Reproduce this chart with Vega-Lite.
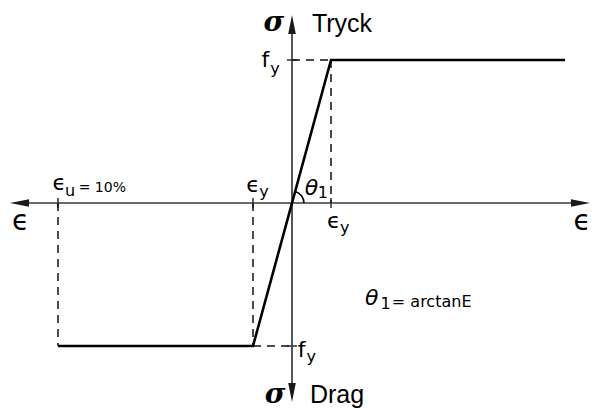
{
  "$schema": "https://vega.github.io/schema/vega-lite/v6.json",
  "width": 592,
  "height": 412,
  "autosize": {"type": "fit", "contains": "padding"},
  "padding": 0,
  "background": "white",
  "config": {"view": {"stroke": null}},
  "datasets": {
    "axes": [
      {"x": -7.1, "y": 0, "x2": 7.5, "y2": 0},
      {"x": 0, "y": 1.28, "x2": 0, "y2": -1.36}
    ],
    "arrows": [
      {"x": 7.64, "y": 0, "rot": 0},
      {"x": -7.23, "y": 0, "rot": 180},
      {"x": 0, "y": 1.315, "rot": -90},
      {"x": 0, "y": -1.392, "rot": 90}
    ],
    "curve": [
      {"x": -6, "y": -1},
      {"x": -1, "y": -1},
      {"x": 1, "y": 1},
      {"x": 7, "y": 1}
    ],
    "guides": [
      {"x": -6, "y": 0, "x2": -6, "y2": -1},
      {"x": -1, "y": 0, "x2": -1, "y2": -1},
      {"x": -1, "y": -1, "x2": 0, "y2": -1},
      {"x": 0, "y": 1, "x2": 1, "y2": 1},
      {"x": 1, "y": 1, "x2": 1, "y2": 0}
    ],
    "ticks": [
      {"x": -6, "y": 0.035, "x2": -6, "y2": -0.035},
      {"x": -1, "y": 0.035, "x2": -1, "y2": -0.035},
      {"x": 1, "y": 0.035, "x2": 1, "y2": -0.035},
      {"x": -0.13, "y": 1, "x2": 0.13, "y2": 1},
      {"x": -0.13, "y": -1, "x2": 0.13, "y2": -1}
    ],
    "origin": [{"x": 0, "y": 0}],
    "labels": [
      {"role": "sigma", "x": -0.2, "y": 1.2, "t": "σ"},
      {"role": "sigma", "x": -0.17, "y": -1.4, "t": "σ"},
      {"role": "word", "x": 0.51, "y": 1.196, "t": "Tryck"},
      {"role": "word", "x": 0.46, "y": -1.399, "t": "Drag"},
      {"role": "big", "x": -7.18, "y": -0.19, "t": "ϵ"},
      {"role": "big", "x": 7.22, "y": -0.19, "t": "ϵ"},
      {"role": "sym", "x": -0.78, "y": 0.951, "t": "f"},
      {"role": "sub", "x": -0.56, "y": 0.905, "t": "y"},
      {"role": "sym", "x": 0.15, "y": -1.077, "t": "f"},
      {"role": "sub", "x": 0.37, "y": -1.115, "t": "y"},
      {"role": "sym", "x": -1.17, "y": 0.077, "t": "ϵ"},
      {"role": "sub", "x": -0.84, "y": 0.045, "t": "y"},
      {"role": "sym", "x": 0.9, "y": -0.175, "t": "ϵ"},
      {"role": "sub", "x": 1.23, "y": -0.207, "t": "y"},
      {"role": "theta", "x": 0.33, "y": 0.056, "t": "θ"},
      {"role": "sub", "x": 0.66, "y": 0.035, "t": "1"},
      {"role": "sym", "x": -6.14, "y": 0.091, "t": "ϵ"},
      {"role": "sub", "x": -5.82, "y": 0.05, "t": "u"},
      {"role": "note", "x": -5.47, "y": 0.077, "t": "= 10%"},
      {"role": "theta", "x": 1.87, "y": -0.713, "t": "θ"},
      {"role": "sub", "x": 2.27, "y": -0.741, "t": "1"},
      {"role": "note2", "x": 2.56, "y": -0.727, "t": "= arctanE"}
    ]
  },
  "encoding": {
    "x": {"field": "x", "type": "quantitative", "scale": {"domain": [-7.487, 7.692], "nice": false, "zero": false}, "axis": null},
    "y": {"field": "y", "type": "quantitative", "scale": {"domain": [-1.4615, 1.4196], "nice": false, "zero": false}, "axis": null}
  },
  "layer": [
    {
      "data": {"name": "axes"},
      "mark": {"type": "rule", "color": "#3a3a3a", "strokeWidth": 1.7},
      "encoding": {"x2": {"field": "x2"}, "y2": {"field": "y2"}}
    },
    {
      "data": {"name": "ticks"},
      "mark": {"type": "rule", "color": "#3a3a3a", "strokeWidth": 1.6},
      "encoding": {"x2": {"field": "x2"}, "y2": {"field": "y2"}}
    },
    {
      "data": {"name": "arrows"},
      "mark": {"type": "point", "shape": "M0,0L-2,-0.4L-2,0.4Z", "size": 361, "filled": true, "color": "#1a1a1a", "opacity": 1},
      "encoding": {"angle": {"field": "rot", "type": "quantitative", "scale": null}}
    },
    {
      "data": {"name": "guides"},
      "mark": {"type": "rule", "color": "#111", "strokeWidth": 1.5, "strokeDash": [8, 6]},
      "encoding": {"x2": {"field": "x2"}, "y2": {"field": "y2"}}
    },
    {
      "data": {"name": "curve"},
      "mark": {"type": "line", "color": "#000", "strokeWidth": 2.6},
      "encoding": {}
    },
    {
      "data": {"name": "origin"},
      "mark": {"type": "point", "shape": "M1,0A1,1,0,0,0,0.264,-0.965", "size": 576, "filled": false, "color": "#000", "strokeWidth": 1.6, "opacity": 1},
      "encoding": {}
    },
    {
      "data": {"name": "labels"},
      "transform": [{"filter": "datum.role == 'sigma'"}],
      "mark": {"type": "text", "align": "right", "baseline": "alphabetic", "font": "DejaVu Serif", "fontStyle": "italic", "fontWeight": "bold", "fontSize": 28, "color": "#000"},
      "encoding": {"text": {"field": "t"}}
    },
    {
      "data": {"name": "labels"},
      "transform": [{"filter": "datum.role == 'word'"}],
      "mark": {"type": "text", "align": "left", "baseline": "alphabetic", "font": "Liberation Sans", "fontSize": 25, "color": "#000"},
      "encoding": {"text": {"field": "t"}}
    },
    {
      "data": {"name": "labels"},
      "transform": [{"filter": "datum.role == 'big'"}],
      "mark": {"type": "text", "align": "left", "baseline": "alphabetic", "font": "DejaVu Sans", "fontSize": 28, "color": "#000"},
      "encoding": {"text": {"field": "t"}}
    },
    {
      "data": {"name": "labels"},
      "transform": [{"filter": "datum.role == 'sym'"}],
      "mark": {"type": "text", "align": "left", "baseline": "alphabetic", "font": "DejaVu Sans", "fontSize": 22, "color": "#000"},
      "encoding": {"text": {"field": "t"}}
    },
    {
      "data": {"name": "labels"},
      "transform": [{"filter": "datum.role == 'theta'"}],
      "mark": {"type": "text", "align": "left", "baseline": "alphabetic", "font": "DejaVu Sans", "fontStyle": "italic", "fontSize": 22, "color": "#000"},
      "encoding": {"text": {"field": "t"}}
    },
    {
      "data": {"name": "labels"},
      "transform": [{"filter": "datum.role == 'sub'"}],
      "mark": {"type": "text", "align": "left", "baseline": "alphabetic", "font": "DejaVu Sans", "fontSize": 16, "color": "#000"},
      "encoding": {"text": {"field": "t"}}
    },
    {
      "data": {"name": "labels"},
      "transform": [{"filter": "datum.role == 'note'"}],
      "mark": {"type": "text", "align": "left", "baseline": "alphabetic", "font": "DejaVu Sans", "fontSize": 14, "color": "#000"},
      "encoding": {"text": {"field": "t"}}
    },
    {
      "data": {"name": "labels"},
      "transform": [{"filter": "datum.role == 'note2'"}],
      "mark": {"type": "text", "align": "left", "baseline": "alphabetic", "font": "DejaVu Sans", "fontSize": 16, "color": "#000"},
      "encoding": {"text": {"field": "t"}}
    }
  ]
}
